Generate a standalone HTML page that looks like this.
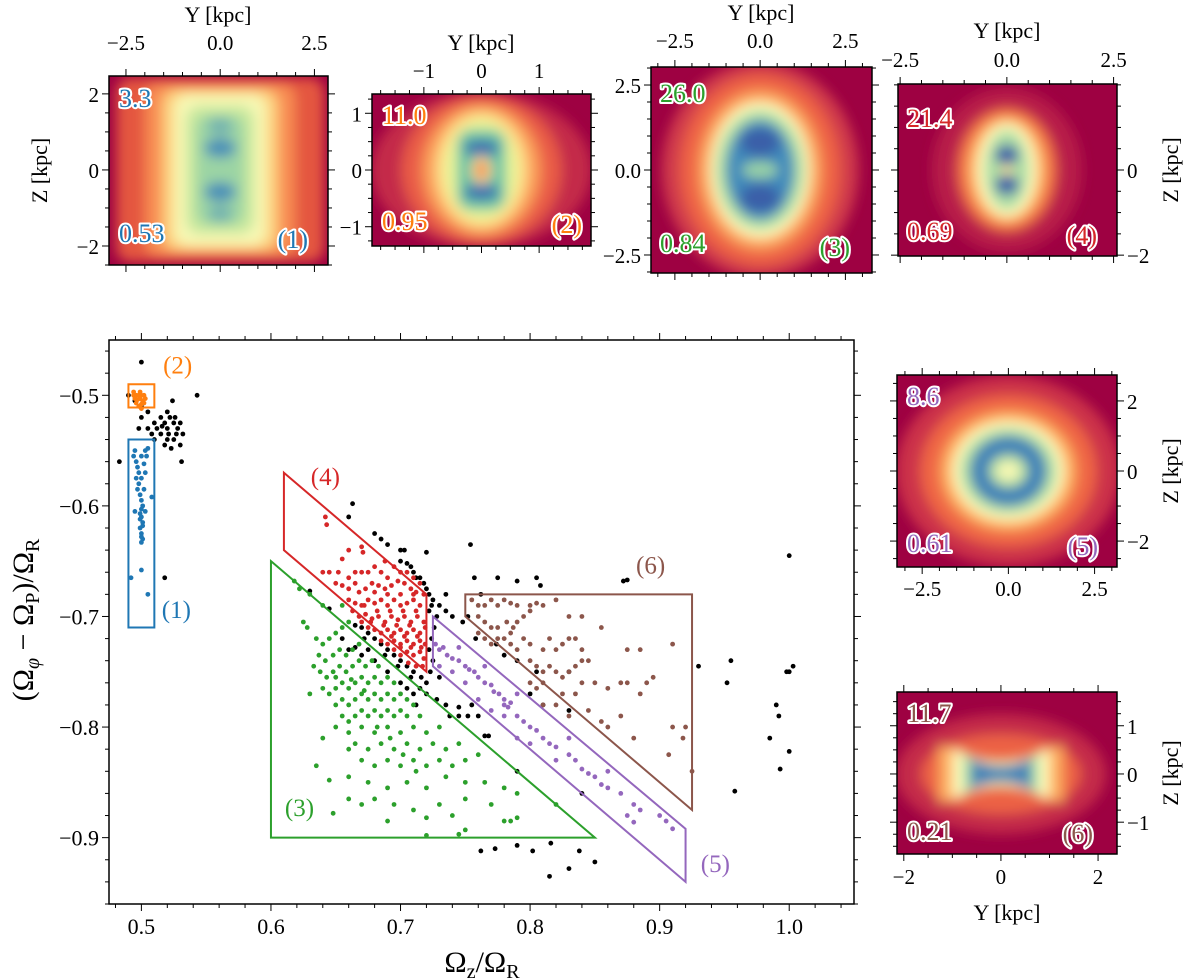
<!DOCTYPE html>
<html><head><meta charset="utf-8"><style>
html,body{margin:0;padding:0;background:#fff;}
svg{display:block;}
text{font-family:"Liberation Serif","DejaVu Serif",serif;}
.ann{font-size:26px;stroke:#fff;stroke-width:4px;paint-order:stroke;stroke-linejoin:round;}
</style></head><body>
<svg id="fig" width="1200" height="979" viewBox="0 0 1200 979" xmlns="http://www.w3.org/2000/svg" font-family="Liberation Serif, serif">
<defs>
<filter id="blur" x="-30%" y="-30%" width="160%" height="160%"><feGaussianBlur stdDeviation="6"/></filter>
</defs>
<g id="insets"></g>
<g id="main"></g>
</svg>
<script>
// ---------- main chart data ----------
const xTicks=[0.5,0.6,0.7,0.8,0.9,1.0];
const xTickLabels=["0.5","0.6","0.7","0.8","0.9","1.0"];
const yTicks=[-0.5,-0.6,-0.7,-0.8,-0.9];
const yTickLabels=["−0.5","−0.6","−0.7","−0.8","−0.9"];
const blackPts=[[0.5,-0.47],[0.49,-0.5],[0.495,-0.505],[0.5,-0.51],[0.505,-0.515],[0.5,-0.52],[0.498,-0.53],[0.51,-0.525],[0.515,-0.52],[0.52,-0.515],[0.518,-0.525],[0.522,-0.52],[0.525,-0.525],[0.528,-0.53],[0.52,-0.53],[0.515,-0.535],[0.512,-0.53],[0.508,-0.535],[0.51,-0.54],[0.52,-0.54],[0.525,-0.54],[0.53,-0.545],[0.523,-0.548],[0.518,-0.545],[0.527,-0.535],[0.53,-0.525],[0.532,-0.535],[0.524,-0.505],[0.543,-0.5],[0.531,-0.56],[0.483,-0.56],[0.518,-0.665],[0.526,-0.52],[0.516,-0.528],[0.521,-0.535],[0.505,-0.53],
[0.663,-0.598],[0.66,-0.61],[0.68,-0.625],[0.685,-0.63],[0.69,-0.635],[0.7,-0.64],[0.703,-0.64],[0.72,-0.642],[0.7,-0.65],[0.705,-0.652],[0.708,-0.655],[0.71,-0.66],[0.712,-0.665],[0.715,-0.665],[0.718,-0.67],[0.72,-0.675],[0.722,-0.68],[0.725,-0.685],[0.724,-0.69],[0.722,-0.695],[0.73,-0.69],[0.735,-0.695],[0.74,-0.7],[0.728,-0.7],[0.726,-0.71],[0.724,-0.72],[0.722,-0.73],[0.725,-0.74],[0.723,-0.75],[0.73,-0.755],[0.72,-0.76],[0.716,-0.755],[0.71,-0.75],[0.705,-0.745],[0.7,-0.74],[0.695,-0.735],[0.69,-0.73],[0.685,-0.725],[0.68,-0.72],[0.675,-0.715],[0.67,-0.71],[0.665,-0.708],[0.672,-0.72],[0.688,-0.735],[0.698,-0.745],[0.708,-0.755],[0.715,-0.765],[0.72,-0.77],[0.728,-0.775],[0.735,-0.78],[0.738,-0.79],[0.745,-0.782],[0.745,-0.79],[0.752,-0.79],[0.755,-0.78],[0.76,-0.79],[0.754,-0.635],[0.757,-0.665],[0.762,-0.68],[0.775,-0.665],[0.79,-0.668],[0.805,-0.665],[0.808,-0.672],[0.872,-0.668],[0.875,-0.667],[0.63,-0.677],[0.645,-0.693],[0.735,-0.68],[0.748,-0.705],[0.752,-0.7],[0.758,-0.72],[0.774,-0.725],[0.79,-0.74],[0.81,-0.78],[0.805,-0.75],[0.78,-0.735],[0.765,-0.808],[0.768,-0.808],[0.83,-0.75],[0.83,-0.785],[0.84,-0.86],[0.8,-0.77],[0.79,-0.84],
[0.93,-0.745],[0.955,-0.74],[0.952,-0.76],[0.99,-0.78],[0.992,-0.79],[0.985,-0.81],[0.993,-0.838],[1.0,-0.645],[0.998,-0.75],[1.0,-0.75],[1.003,-0.745],[1.0,-0.822],[0.958,-0.858],
[0.762,-0.912],[0.773,-0.91],[0.79,-0.907],[0.802,-0.912],[0.815,-0.935],[0.83,-0.928],[0.838,-0.912],[0.85,-0.922],[0.816,-0.905],
[0.655,-0.72],[0.66,-0.73],[0.665,-0.728],[0.67,-0.735],[0.675,-0.73],[0.68,-0.74],[0.69,-0.75],[0.7,-0.76],[0.705,-0.765],[0.71,-0.77],[0.712,-0.78]];
const bluePts=[[0.492,-0.665],[0.495,-0.55],[0.494,-0.555],[0.496,-0.56],[0.497,-0.565],[0.5,-0.555],[0.503,-0.55],[0.505,-0.548],[0.504,-0.555],[0.5,-0.575],[0.498,-0.58],[0.502,-0.585],[0.499,-0.59],[0.5,-0.595],[0.501,-0.6],[0.5,-0.603],[0.499,-0.607],[0.5,-0.61],[0.501,-0.615],[0.499,-0.62],[0.5,-0.625],[0.501,-0.63],[0.5,-0.633],[0.498,-0.57],[0.503,-0.57],[0.497,-0.585],[0.495,-0.605],[0.503,-0.605],[0.508,-0.592],[0.5,-0.658],[0.505,-0.68],[0.496,-0.575],[0.502,-0.562],[0.499,-0.612],[0.501,-0.618],[0.5,-0.628]];
const orangePts=[[0.494,-0.5],[0.496,-0.5],[0.498,-0.5],[0.5,-0.5],[0.502,-0.5],[0.495,-0.503],[0.497,-0.504],[0.499,-0.503],[0.501,-0.505],[0.503,-0.503],[0.496,-0.507],[0.5,-0.508],[0.498,-0.51],[0.5,-0.512],[0.494,-0.497],[0.499,-0.497],[0.502,-0.507]];
const redPts=[[0.642,-0.61],[0.643,-0.617],[0.64,-0.66],[0.655,-0.648],[0.66,-0.64],[0.67,-0.637],[0.671,-0.642],[0.665,-0.66],[0.67,-0.66],[0.675,-0.66],[0.68,-0.655],[0.685,-0.66],[0.69,-0.665],[0.65,-0.67],[0.655,-0.672],[0.66,-0.675],[0.665,-0.67],[0.668,-0.678],[0.673,-0.675],[0.678,-0.67],[0.683,-0.672],[0.688,-0.675],[0.693,-0.672],[0.698,-0.668],[0.703,-0.67],[0.708,-0.675],[0.66,-0.685],[0.665,-0.688],[0.67,-0.69],[0.675,-0.685],[0.68,-0.688],[0.685,-0.685],[0.69,-0.69],[0.695,-0.685],[0.7,-0.69],[0.705,-0.688],[0.71,-0.685],[0.715,-0.69],[0.668,-0.7],[0.673,-0.698],[0.678,-0.702],[0.683,-0.7],[0.688,-0.705],[0.693,-0.7],[0.698,-0.703],[0.703,-0.7],[0.708,-0.705],[0.713,-0.7],[0.718,-0.705],[0.675,-0.71],[0.68,-0.712],[0.685,-0.715],[0.69,-0.712],[0.695,-0.715],[0.7,-0.712],[0.705,-0.715],[0.71,-0.712],[0.715,-0.715],[0.719,-0.71],[0.685,-0.722],[0.69,-0.725],[0.695,-0.722],[0.7,-0.725],[0.705,-0.722],[0.71,-0.725],[0.715,-0.722],[0.719,-0.725],[0.695,-0.73],[0.7,-0.735],[0.705,-0.732],[0.71,-0.735],[0.715,-0.732],[0.718,-0.738],[0.706,-0.742],[0.712,-0.745],[0.717,-0.745],[0.672,-0.69],[0.682,-0.695],[0.692,-0.695],[0.702,-0.695],[0.712,-0.695],[0.697,-0.708],[0.707,-0.708],[0.687,-0.708],[0.677,-0.705],[0.703,-0.718],[0.713,-0.718],[0.693,-0.718],[0.708,-0.728],[0.716,-0.728],[0.7,-0.728],[0.645,-0.66],[0.652,-0.66],[0.66,-0.665],[0.688,-0.65],[0.695,-0.655],[0.7,-0.66],[0.705,-0.66],[0.71,-0.665],[0.715,-0.67],[0.718,-0.68],[0.712,-0.678],[0.663,-0.695],[0.67,-0.705],[0.68,-0.678],[0.69,-0.68],[0.7,-0.68],[0.71,-0.68]];
const greenPts=[[0.622,-0.675],[0.63,-0.68],[0.625,-0.705],[0.628,-0.71],[0.635,-0.72],[0.64,-0.725],[0.645,-0.72],[0.65,-0.715],[0.655,-0.71],[0.66,-0.705],[0.637,-0.735],[0.642,-0.74],[0.648,-0.735],[0.653,-0.73],[0.658,-0.735],[0.663,-0.73],[0.668,-0.725],[0.633,-0.745],[0.638,-0.75],[0.643,-0.755],[0.648,-0.75],[0.653,-0.745],[0.658,-0.75],[0.663,-0.745],[0.668,-0.74],[0.673,-0.745],[0.678,-0.74],[0.683,-0.745],[0.64,-0.765],[0.645,-0.77],[0.65,-0.765],[0.655,-0.76],[0.66,-0.765],[0.665,-0.76],[0.67,-0.755],[0.675,-0.76],[0.68,-0.755],[0.685,-0.76],[0.69,-0.755],[0.695,-0.76],[0.65,-0.78],[0.655,-0.775],[0.66,-0.78],[0.665,-0.775],[0.67,-0.77],[0.675,-0.775],[0.68,-0.77],[0.685,-0.775],[0.69,-0.77],[0.695,-0.775],[0.7,-0.77],[0.705,-0.775],[0.71,-0.78],[0.655,-0.79],[0.66,-0.795],[0.665,-0.79],[0.67,-0.785],[0.675,-0.79],[0.68,-0.785],[0.685,-0.79],[0.69,-0.785],[0.695,-0.79],[0.7,-0.785],[0.705,-0.79],[0.715,-0.79],[0.65,-0.8],[0.66,-0.805],[0.67,-0.8],[0.68,-0.805],[0.69,-0.8],[0.7,-0.805],[0.71,-0.8],[0.72,-0.805],[0.73,-0.8],[0.665,-0.815],[0.675,-0.82],[0.685,-0.815],[0.695,-0.82],[0.705,-0.815],[0.715,-0.82],[0.725,-0.815],[0.735,-0.82],[0.745,-0.815],[0.67,-0.83],[0.68,-0.835],[0.69,-0.83],[0.7,-0.835],[0.71,-0.83],[0.72,-0.835],[0.73,-0.83],[0.74,-0.835],[0.75,-0.83],[0.76,-0.825],[0.635,-0.835],[0.645,-0.848],[0.66,-0.845],[0.675,-0.85],[0.69,-0.855],[0.705,-0.85],[0.72,-0.855],[0.735,-0.845],[0.75,-0.85],[0.765,-0.85],[0.78,-0.855],[0.66,-0.865],[0.67,-0.87],[0.68,-0.865],[0.695,-0.87],[0.71,-0.875],[0.73,-0.87],[0.75,-0.865],[0.77,-0.87],[0.79,-0.86],[0.648,-0.878],[0.69,-0.885],[0.72,-0.882],[0.74,-0.88],[0.78,-0.885],[0.785,-0.885],[0.79,-0.882],[0.72,-0.898],[0.745,-0.897],[0.75,-0.893],[0.82,-0.87],[0.64,-0.69],[0.655,-0.69],[0.618,-0.668],[0.65,-0.755],[0.662,-0.757],[0.672,-0.767],[0.682,-0.8],[0.692,-0.81],[0.702,-0.825],[0.712,-0.84],[0.66,-0.82],[0.64,-0.81],[0.63,-0.77]];
const purplePts=[[0.727,-0.725],[0.73,-0.73],[0.733,-0.728],[0.736,-0.735],[0.74,-0.738],[0.745,-0.74],[0.75,-0.745],[0.753,-0.748],[0.757,-0.75],[0.76,-0.755],[0.765,-0.76],[0.77,-0.762],[0.772,-0.768],[0.776,-0.77],[0.78,-0.775],[0.78,-0.78],[0.783,-0.782],[0.785,-0.778],[0.79,-0.79],[0.795,-0.795],[0.8,-0.8],[0.805,-0.803],[0.81,-0.81],[0.815,-0.815],[0.82,-0.818],[0.83,-0.825],[0.835,-0.83],[0.845,-0.842],[0.85,-0.845],[0.855,-0.852],[0.86,-0.855],[0.87,-0.86],[0.88,-0.87],[0.885,-0.875],[0.9,-0.88],[0.905,-0.885],[0.91,-0.892],[0.76,-0.775],[0.77,-0.785],[0.78,-0.79],[0.79,-0.81],[0.8,-0.815],[0.73,-0.745],[0.74,-0.75],[0.75,-0.76],[0.84,-0.838],[0.86,-0.84],[0.875,-0.88],[0.88,-0.886],[0.83,-0.81],[0.82,-0.83],[0.765,-0.745],[0.79,-0.77],[0.745,-0.728]];
const brownPts=[[0.755,-0.685],[0.76,-0.69],[0.765,-0.69],[0.77,-0.685],[0.775,-0.69],[0.78,-0.685],[0.785,-0.688],[0.79,-0.69],[0.8,-0.69],[0.805,-0.688],[0.81,-0.69],[0.82,-0.685],[0.83,-0.7],[0.84,-0.7],[0.855,-0.71],[0.76,-0.7],[0.765,-0.705],[0.77,-0.71],[0.775,-0.71],[0.78,-0.72],[0.785,-0.715],[0.787,-0.71],[0.79,-0.705],[0.795,-0.7],[0.782,-0.705],[0.775,-0.72],[0.77,-0.725],[0.765,-0.72],[0.76,-0.715],[0.785,-0.725],[0.79,-0.73],[0.795,-0.72],[0.8,-0.725],[0.81,-0.73],[0.815,-0.72],[0.82,-0.73],[0.825,-0.725],[0.83,-0.72],[0.835,-0.72],[0.84,-0.73],[0.8,-0.74],[0.805,-0.745],[0.81,-0.75],[0.815,-0.745],[0.82,-0.75],[0.825,-0.755],[0.83,-0.75],[0.835,-0.745],[0.84,-0.74],[0.845,-0.74],[0.8,-0.76],[0.805,-0.765],[0.81,-0.76],[0.825,-0.77],[0.835,-0.77],[0.84,-0.76],[0.85,-0.76],[0.86,-0.765],[0.87,-0.76],[0.875,-0.76],[0.885,-0.77],[0.89,-0.76],[0.895,-0.755],[0.91,-0.725],[0.885,-0.73],[0.875,-0.73],[0.82,-0.78],[0.83,-0.79],[0.845,-0.785],[0.855,-0.795],[0.86,-0.8],[0.87,-0.79],[0.88,-0.81],[0.91,-0.8],[0.92,-0.8],[0.918,-0.81],[0.907,-0.825],[0.925,-0.84],[0.81,-0.78],[0.8,-0.695]];
const region1=[[0.49,-0.54],[0.51,-0.54],[0.51,-0.71],[0.49,-0.71]];
const region2=[[0.49,-0.49],[0.51,-0.49],[0.51,-0.511],[0.49,-0.511]];
const region3=[[0.6,-0.65],[0.85,-0.9],[0.6,-0.9]];
const region4=[[0.61,-0.57],[0.72,-0.68],[0.72,-0.75],[0.61,-0.64]];
const region5=[[0.725,-0.70],[0.92,-0.892],[0.92,-0.94],[0.725,-0.745]];
const region6=[[0.75,-0.68],[0.925,-0.68],[0.925,-0.875],[0.75,-0.70]];
const regionLabelPos=[[0.527,-0.694],[0.528,-0.473],[0.622,-0.873],[0.642,-0.574],[0.943,-0.924],[0.893,-0.654]];
const regionLabels=["(1)","(2)","(3)","(4)","(5)","(6)"];

const NS="http://www.w3.org/2000/svg";
const SERIF='"Liberation Serif", "DejaVu Serif", serif';
function mk(tag,attrs,parent){const e=document.createElementNS(NS,tag);for(const k in attrs)e.setAttribute(k,attrs[k]);if(tag==='text')e.setAttribute('font-family',SERIF);if(parent)parent.appendChild(e);return e;}

const L=109,R=854,T=340,B=904,X0=0.475,X1=1.05,Y0=-0.96,Y1=-0.45;
function sx(v){return L+(v-X0)/(X1-X0)*(R-L);}
function sy(v){return T+(Y1-v)/(Y1-Y0)*(B-T);}
const main=document.getElementById('main');
const colors=["#1f77b4","#ff7f0e","#2ca02c","#d62728","#9467bd","#8c564b"];
const regions=[region1,region2,region3,region4,region5,region6];
const regNames=['region-1-box','region-2-box','region-3-triangle','region-4-parallelogram','region-5-band','region-6-trapezoid'];

function dots(arr,col,name){
  const g=mk('g',{},main);
  
  
  arr.forEach(p=>{const c=mk('circle',{cx:sx(p[0]),cy:sy(p[1]),r:2.4,fill:col},g);
    
    });
}
dots(blackPts,'#000','black-points');
dots(greenPts,colors[2],'region-3-points');
dots(redPts,colors[3],'region-4-points');
dots(purplePts,colors[4],'region-5-points');
dots(brownPts,colors[5],'region-6-points');
dots(bluePts,colors[0],'region-1-points');
dots(orangePts,colors[1],'region-2-points');
regions.forEach((r,i)=>{
  const p=mk('polygon',{points:r.map(q=>sx(q[0])+','+sy(q[1])).join(' '),fill:'none',stroke:colors[i],'stroke-width':2},main);
  
  
  const t=mk('text',{x:sx(regionLabelPos[i][0]),y:sy(regionLabelPos[i][1])+8,fill:colors[i],'font-size':25,'text-anchor':'middle'},main);
  t.textContent=regionLabels[i];
  
  
});
const fr=mk('rect',{x:L,y:T,width:R-L,height:B-T,fill:'none',stroke:'#000','stroke-width':1.5},main);


for(let i=0;i<=29;i++){const v=0.48+i*0.02;if(v>X1)break;const maj=xTicks.some(t=>Math.abs(t-v)<1e-6);const len=maj?7:4;
  mk('line',{x1:sx(v),x2:sx(v),y1:B,y2:B+len,stroke:'#000'},main);mk('line',{x1:sx(v),x2:sx(v),y1:T,y2:T-len,stroke:'#000'},main);}
for(let i=0;i<=26;i++){const v=-0.46-i*0.02;if(v<Y0)break;const maj=yTicks.some(t=>Math.abs(t-v)<1e-6);const len=maj?7:4;
  mk('line',{x1:L,x2:L-len,y1:sy(v),y2:sy(v),stroke:'#000'},main);mk('line',{x1:R,x2:R+len,y1:sy(v),y2:sy(v),stroke:'#000'},main);}
xTicks.forEach((v,i)=>{const t=mk('text',{x:sx(v),y:934,'font-size':22,'text-anchor':'middle'},main);t.textContent=xTickLabels[i];
  
  });
yTicks.forEach((v,i)=>{const t=mk('text',{x:99,y:sy(v)+8,'font-size':22,'text-anchor':'end'},main);t.textContent=yTickLabels[i];
  
  });
const xl=mk('text',{x:482,y:972,'font-size':30,'text-anchor':'middle'},main);
xl.innerHTML='Ω<tspan font-size="20" dy="6">z</tspan><tspan dy="-6">/Ω</tspan><tspan font-size="20" dy="6">R</tspan>';


const yl=mk('text',{x:0,y:0,'font-size':30,'text-anchor':'middle',transform:'translate(33,620) rotate(-90)'},main);
yl.innerHTML='(Ω<tspan font-size="20" dy="6" font-style="italic">φ</tspan><tspan dy="-6"> − Ω</tspan><tspan font-size="20" dy="6">P</tspan><tspan dy="-6">)/Ω</tspan><tspan font-size="20" dy="6">R</tspan>';



// ---------- insets ----------
const insets=[
 {n:1,l:109,r:328,t:76,b:265,y0:-2.95,y1:2.86,z0:-2.5,z1:2.47,yt:[-2.5,0,2.5],ytl:["−2.5","0.0","2.5"],ym:0.5,zt:[-2,0,2],ztl:["−2","0","2"],zm:0.5,zpos:'left',xlab:[218,22],xtly:50,zlab:40,
  top:"3.3",bot:"0.53",col:colors[0],tp:[119,107],bp:[119,242],lp:[308,248]},
 {n:2,l:372,r:591,t:94,b:246,y0:-1.9,y1:1.9,z0:-1.34,z1:1.34,yt:[-1,0,1],ytl:["−1","0","1"],ym:0.25,zt:[-1,0,1],ztl:["−1","0","1"],zm:0.25,zpos:'left',xlab:[481,50],xtly:78,zlab:null,
  top:"11.0",bot:"0.95",col:colors[1],tp:[382,124],bp:[382,230],lp:[582,233]},
 {n:3,l:651,r:872,t:67,b:273,y0:-3.2,y1:3.28,z0:-3.03,z1:3.03,yt:[-2.5,0,2.5],ytl:["−2.5","0.0","2.5"],ym:0.5,zt:[-2.5,0,2.5],ztl:["−2.5","0.0","2.5"],zm:0.5,zpos:'left',xlab:[761,20],xtly:48,zlab:null,
  top:"26.0",bot:"0.84",col:colors[2],tp:[660,102],bp:[660,252],lp:[850,256]},
 {n:4,l:898,r:1117,t:84,b:256,y0:-2.55,y1:2.58,z0:-2.02,z1:2.02,yt:[-2.5,0,2.5],ytl:["−2.5","0.0","2.5"],ym:0.5,zt:[-2,0],ztl:["−2","0"],zm:0.5,zpos:'right',xlab:[1007,38],xtly:67,zlab:1185,
  top:"21.4",bot:"0.69",col:colors[3],tp:[907,127],bp:[907,240],lp:[1097,244]},
 {n:5,l:897,r:1117,t:375,b:567,y0:-3.23,y1:3.15,z0:-2.74,z1:2.74,yt:[-2.5,0,2.5],ytl:["−2.5","0.0","2.5"],ym:0.5,zt:[-2,0,2],ztl:["−2","0","2"],zm:0.5,zpos:'right',xlab:null,xtly:596,zlab:1185,
  top:"8.6",bot:"0.61",col:colors[4],tp:[907,405],bp:[907,552],lp:[1098,555]},
 {n:6,l:897,r:1117,t:692,b:854,y0:-2.14,y1:2.39,z0:-1.66,z1:1.70,yt:[-2,0,2],ytl:["−2","0","2"],ym:0.5,zt:[-1,0,1],ztl:["−1","0","1"],zm:0.25,zpos:'right',xlab:[1007,920],xtly:884,zlab:1185,
  top:"11.7",bot:"0.21",col:colors[5],tp:[907,722],bp:[907,840],lp:[1093,842]}
];
const layers={
 1:[['r',0,0,104,92,'#e4573f'],['r',0,0,75,86,'#f88d52'],['r',0,0,58,80,'#fdd17f'],['r',0,0,46,76,'#f7f8b4'],['r',0,0,34,64,'#c7e89e'],['r',0,0,24,55,'#9bd4a4'],['e',0,-22,16,10,'#4a90b8'],['e',0,22,16,10,'#4a90b8'],['e',0,-44,12,8,'#6fb0b0'],['e',0,44,12,8,'#6fb0b0']],
 2:[['e',0,0,110,78,'#c42b4a'],['e',0,0,80,74,'#e95c47'],['e',0,0,60,66,'#fa9b58'],['e',0,0,46,58,'#fee08b'],['e',0,0,36,50,'#e6f598'],['r',0,0,24,40,'#66c2a5'],['e',0,-22,18,8,'#3f6fb0'],['e',0,22,18,8,'#3f6fb0'],['e',0,0,10,14,'#fee08b'],['e',0,0,5,9,'#f46d43']],
 3:[['e',0,0,98,108,'#d03a4c'],['e',0,0,80,95,'#ee6445'],['e',0,0,62,80,'#fba55e'],['e',0,0,50,68,'#ffffbf'],['e',0,0,44,60,'#abdda4'],['e',0,0,34,50,'#3f8abb'],['e',0,-28,20,14,'#3b5fa8'],['e',0,28,20,14,'#3b5fa8'],['e',0,0,18,8,'#9bd4a4']],
 4:[['e',0,0,75,82,'#b81e48'],['e',0,0,50,62,'#f06a44'],['e',0,0,40,54,'#fdae61'],['e',0,0,30,47,'#ffffbf'],['e',0,0,22,40,'#abdda4'],['e',0,-15,12,10,'#3b5fa8'],['e',0,15,12,10,'#3b5fa8'],['e',0,0,6,5,'#fee08b']],
 5:[['e',0,0,112,95,'#cc3049'],['e',0,0,88,76,'#ef6645'],['e',0,0,68,60,'#fdae61'],['e',0,0,56,50,'#ffffbf'],['e',0,0,48,43,'#abdda4'],['e',0,0,38,35,'#3a7fb8'],['e',0,0,20,17,'#abdda4'],['e',0,0,12,10,'#f7f8b4']],
 6:[['e',0,0,105,60,'#c42b4a'],['e',0,0,80,40,'#ec6245'],['b',0,0,62,30,'#fdae61'],['b',0,0,48,26,'#ffffbf'],['b',0,0,38,20,'#abdda4'],['b',0,0,30,16,'#3a7fb8']]
};
const ins=document.getElementById('insets');
insets.forEach(c=>{
  const g=mk('g',{},ins);
  
  
  const W=c.r-c.l,H=c.b-c.t;
  const cx=c.l+(0-c.y0)/(c.y1-c.y0)*W, cy=c.t+(c.z1-0)/(c.z1-c.z0)*H;
  mk('clipPath',{id:'clip'+c.n},g).appendChild(mk('rect',{x:c.l,y:c.t,width:W,height:H}));
  const hm=mk('g',{'clip-path':'url(#clip'+c.n+')'},g);
  mk('rect',{x:c.l,y:c.t,width:W,height:H,fill:'#9e0142'},hm);
  const hb=mk('g',{filter:'url(#blur)'},hm);
  layers[c.n].forEach(s=>{
    const x=cx+s[1],y=cy+s[2];
    if(s[0]==='e')mk('ellipse',{cx:x,cy:y,rx:s[3],ry:s[4],fill:s[5]},hb);
    else if(s[0]==='r')mk('rect',{x:x-s[3],y:y-s[4],width:2*s[3],height:2*s[4],rx:14,fill:s[5]},hb);
    else {const a=s[3],b=s[4];mk('path',{d:`M${x-a},${y-b} Q${x},${y+b*0.1} ${x+a},${y-b} L${x+a},${y+b} Q${x},${y-b*0.1} ${x-a},${y+b} Z`,fill:s[5]},hb);}
  });
  mk('rect',{x:c.l,y:c.t,width:W,height:H,fill:'none',stroke:'#000','stroke-width':1.5},g);
  const px=v=>c.l+(v-c.y0)/(c.y1-c.y0)*W, pz=v=>c.t+(c.z1-v)/(c.z1-c.z0)*H;
  for(let v=Math.ceil(c.y0/c.ym)*c.ym;v<=c.y1+1e-9;v+=c.ym){const maj=c.yt.some(t=>Math.abs(t-v)<1e-6);const len=maj?7:4;
    mk('line',{x1:px(v),x2:px(v),y1:c.t,y2:c.t-len,stroke:'#000'},g);mk('line',{x1:px(v),x2:px(v),y1:c.b,y2:c.b+len,stroke:'#000'},g);}
  for(let v=Math.ceil(c.z0/c.zm)*c.zm;v<=c.z1+1e-9;v+=c.zm){const maj=c.zt.some(t=>Math.abs(t-v)<1e-6);const len=maj?7:4;
    mk('line',{x1:c.l,x2:c.l-len,y1:pz(v),y2:pz(v),stroke:'#000'},g);mk('line',{x1:c.r,x2:c.r+len,y1:pz(v),y2:pz(v),stroke:'#000'},g);}
  c.yt.forEach((v,i)=>{const t=mk('text',{x:px(v),y:c.xtly,'font-size':21,'text-anchor':'middle'},g);t.textContent=c.ytl[i];
    
    });
  c.zt.forEach((v,i)=>{const t=mk('text',{x:c.zpos==='left'?c.l-10:c.r+10,y:pz(v)+8,'font-size':21,'text-anchor':c.zpos==='left'?'end':'start'},g);t.textContent=c.ztl[i];
    
    });
  if(c.xlab){const t=mk('text',{x:c.xlab[0],y:c.xlab[1],'font-size':22,'text-anchor':'middle'},g);t.textContent='Y [kpc]';
    
    }
  if(c.zlab){const zy=(c.t+c.b)/2;const t=mk('text',{x:0,y:0,'font-size':22,'text-anchor':'middle',transform:`translate(${c.zlab+(c.zpos==='left'?7:-7)},${zy}) rotate(-90)`},g);t.textContent='Z [kpc]';
    
    }
  const a1=mk('text',{x:c.tp[0],y:c.tp[1],fill:c.col,class:'ann'},g);a1.textContent=c.top;
  
  
  const a2=mk('text',{x:c.bp[0],y:c.bp[1],fill:c.col,class:'ann'},g);a2.textContent=c.bot;
  
  
  const a3=mk('text',{x:c.lp[0],y:c.lp[1],fill:c.col,class:'ann','text-anchor':'end'},g);a3.textContent='('+c.n+')';
  
  
});
</script>
</body></html>
